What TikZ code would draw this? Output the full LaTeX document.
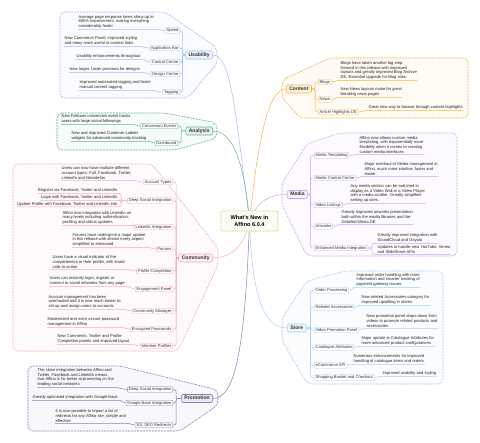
\documentclass[tikz,border=0pt]{standalone}
\usepackage{fontspec}
\setmainfont{Liberation Sans}
\usepackage{tikz}
\definecolor{usabcol}{RGB}{160,190,242}
\definecolor{contcol}{RGB}{248,180,70}
\definecolor{anacol}{RGB}{100,180,140}
\definecolor{mediacol}{RGB}{200,168,242}
\definecolor{commcol}{RGB}{246,166,204}
\definecolor{storecol}{RGB}{166,206,245}
\definecolor{promocol}{RGB}{135,130,182}
\definecolor{centrecol}{RGB}{214,230,160}
\pgfdeclarelayer{boundary layer}
\pgfdeclarelayer{line layer}
\pgfsetlayers{boundary layer,line layer,main}

\begin{document}
\begin{tikzpicture}[x=1bp, y=-1bp,
  centretopic/.style={draw=centrecol, fill=centrecol!10, line width=0.9pt, rounded corners=2pt, minimum width=57bp, minimum height=20bp, align=center, font=\fontsize{5.6}{6.8}\selectfont\bfseries},
  maintopic/.style={draw=#1, fill=#1!18, line width=0.6pt, rounded corners=1.5pt, inner xsep=3pt, inner ysep=1.7pt, text height=3.7pt, text depth=1pt, font=\fontsize{5.1}{6}\selectfont\bfseries, text=black!80},
  subtopic/.style={draw=#1, fill=white, line width=0.4pt, rounded corners=1pt, inner xsep=1.4pt, inner ysep=0.9pt, text height=2.9pt, text depth=0.8pt, font=\fontsize{4.1}{4.8}\selectfont, text=black!80},
  leaftext/.style={inner xsep=0.4pt, inner ysep=0.6pt, align=left, font=\fontsize{4.1}{4.8}\selectfont, text=black!85},
  branchline/.style={draw=#1, line width=0.5pt, rounded corners=2pt},
  boundary/.style={draw=#1, fill=#1!6, line width=0.6pt, dash pattern=on 2pt off 1pt, rounded corners=5pt}]
\useasboundingbox (0,0) rectangle (480,443);

% centre
\node[centretopic] (centre) at (249.5,221) {What's New in\\Affino 6.0.4};

% usability
\node[maintopic=usabcol, anchor=east] (usability) at (213,55) {Usability};
\node[subtopic=usabcol, anchor=east] (speed) at (180,30.5) {Speed};
\node[subtopic=usabcol, anchor=east] (appbar) at (180,48) {Application Bar};
\node[subtopic=usabcol, anchor=east] (ctrlcentre) at (180,62) {Control Centre};
\node[subtopic=usabcol, anchor=east] (designcentre) at (180,74) {Design Centre};
\node[subtopic=usabcol, anchor=east] (tagging) at (180,92) {Tagging};
\node[leaftext, anchor=south west] (speed-txt) at (78,29.3) {Average page response times show up to\\800\% improvement, making everything\\considerably faster};
\node[leaftext, anchor=south west] (appbar-txt) at (64,46.3) {New Commerce Panel, improved styling\\and many more useful in-context links};
\node[leaftext, anchor=south west] (ctrlcentre-txt) at (76,59.3) {Usability enhancements throughout};
\node[leaftext, anchor=south west] (designcentre-txt) at (69,72.3) {New larger, faster previews for designs};
\node[leaftext, anchor=south west] (tagging-txt) at (79,90.3) {Improved automated tagging and faster\\manual content tagging};

% content
\node[maintopic=contcol, anchor=west] (content) at (286,89) {Content};
\node[subtopic=contcol, anchor=west] (blogs) at (318,82) {Blogs};
\node[subtopic=contcol, anchor=west] (news) at (318,99.5) {News};
\node[subtopic=contcol, anchor=west] (articlehl) at (318,112) {Article Highlights DE};
\node[leaftext, anchor=south west] (blogs-txt) at (340,80.3) {Blogs have taken another big step\\forward in this release with improved\\layouts and greatly improved Blog Archive\\DE. Essential upgrade for Blog sites.};
\node[leaftext, anchor=south west] (news-txt) at (340,97.3) {New News layouts make for great\\breaking news pages};
\node[leaftext, anchor=south west] (articlehl-txt) at (368,110.3) {Great new way to browse through content highlights};

% analysis
\node[maintopic=anacol, anchor=east] (analysis) at (213,131) {Analysis};
\node[subtopic=anacol, anchor=east] (convevents) at (178,126) {Conversion Events};
\node[subtopic=anacol, anchor=east] (dashboard) at (178,143) {Dashboard};
\node[leaftext, anchor=south west] (convevents-txt) at (61,124.3) {New Follower conversion event tracks\\users with large social followings};
\node[leaftext, anchor=south west] (dashboard-txt) at (71,141.3) {New and improved Customer Ladder\\widgets for advanced community tracking};

% media
\node[maintopic=mediacol, anchor=west] (media) at (287,194.5) {Media};
\node[subtopic=mediacol, anchor=west] (mtemplating) at (314,155.5) {Media Templating};
\node[subtopic=mediacol, anchor=west] (mcc) at (314,178) {Media Control Centre};
\node[subtopic=mediacol, anchor=west] (videolist) at (314,205) {Video Listings};
\node[subtopic=mediacol, anchor=west] (artworks) at (314,226.5) {Artworks};
\node[subtopic=mediacol, anchor=west] (emi) at (314,248) {Enhanced Media Integration};
\node[leaftext, anchor=south west] (mtemplating-txt) at (359,154.3) {Affino now allows custom media\\templating, with exponentially more\\flexibility when it comes to creating\\custom media interfaces};
\node[leaftext, anchor=south west] (mcc-txt) at (364,176.3) {Major overhaul of Media management in\\Affino, much more intuitive, faster and\\easier};
\node[leaftext, anchor=south west] (videolist-txt) at (350,203.3) {Any media section can be switched to\\display as a Video Wall or a Video Player\\with a media scroller. Greatly simplifies\\setting up sites.};
\node[leaftext, anchor=south west] (artworks-txt) at (341,224.3) {Greatly improved artworks presentation\\both within the media libraries and the\\Detailed Media DE};
\node[leaftext, anchor=south west] (soundcloud) at (377,243.3) {Greatly improved integration with\\SoundCloud and Ooyala};
\node[leaftext, anchor=south west] (youtube) at (377,254.3) {Updates to handle new YouTube, Vimeo\\and SlideShare APIs};

% community
\node[maintopic=commcol, anchor=east] (community) at (213,258) {Community};
\node[subtopic=commcol, anchor=east] (accttypes) at (173,182) {Account Types};
\node[subtopic=commcol, anchor=east] (dsi) at (173,200.5) {Deep Social Integration};
\node[subtopic=commcol, anchor=east] (linkedin) at (173,227) {LinkedIn Integration};
\node[subtopic=commcol, anchor=east] (forums) at (173,249) {Forums};
\node[subtopic=commcol, anchor=east] (profile) at (173,271) {Profile Completion};
\node[subtopic=commcol, anchor=east] (engagement) at (173,289) {Engagement Panel};
\node[subtopic=commcol, anchor=east] (commanager) at (173,311) {Community Manager};
\node[subtopic=commcol, anchor=east] (encrypted) at (173,329) {Encrypted Passwords};
\node[subtopic=commcol, anchor=east] (memberprof) at (173,346) {Member Profiles};
\node[leaftext, anchor=south west] (accttypes-txt) at (61,180.3) {Users can now have multiple different\\account types: Full, Facebook, Twitter,\\LinkedIn and Newsletter};
\node[leaftext, anchor=south east] (dsreg) at (118,193.3) {Register via Facebook, Twitter and LinkedIn};
\node[leaftext, anchor=south east] (dslogin) at (118,200.3) {Login with Facebook, Twitter and LinkedIn};
\node[leaftext, anchor=south east] (dsupdate) at (118,206.8) {Update Profile with Facebook, Twitter and LinkedIn info};
\node[leaftext, anchor=south west] (linkedin-txt) at (62,225.3) {Affino now integrates with LinkedIn on\\many levels including authentication,\\profiling and status updates};
\node[leaftext, anchor=south west] (forums-txt) at (72,247.3) {Forums have undergone a major update\\in this release with almost every aspect\\simplified or enhanced};
\node[leaftext, anchor=south west] (profile-txt) at (52,269.3) {Users have a visual indicator of the\\completeness or their profile, with timed\\calls to action};
\node[leaftext, anchor=south west] (engagement-txt) at (49,286.3) {Users can instantly login, register or\\connect to social networks from any page};
\node[leaftext, anchor=south west] (commanager-txt) at (48,309.3) {Account management has been\\overhauled and it is now much easier to\\set up and assign users to accounts};
\node[leaftext, anchor=south west] (encrypted-txt) at (47,327.3) {Modernized and more secure password\\management in Affino};
\node[leaftext, anchor=south west] (memberprof-txt) at (57,344.3) {New Comments, Twitter and Profile\\Completion panels and improved layout};

% store
\node[maintopic=storecol, anchor=west] (store) at (287,328) {Store};
\node[subtopic=storecol, anchor=west] (orderproc) at (314,290.5) {Order Processing};
\node[subtopic=storecol, anchor=west] (relacc) at (314,307.5) {Related Accessories};
\node[subtopic=storecol, anchor=west] (vidpromo) at (314,330) {Video Promotion Panel};
\node[subtopic=storecol, anchor=west] (catattr) at (314,347.5) {Catalogue Attributes};
\node[subtopic=storecol, anchor=west] (ecomapi) at (314,365.5) {eCommerce API};
\node[subtopic=storecol, anchor=west] (basket) at (314,377.5) {Shopping Basket and Checkout};
\node[leaftext, anchor=south west] (orderproc-txt) at (356,287.3) {Improved order handling with more\\information and smarter tracking of\\payment gateway issues};
\node[leaftext, anchor=south west] (relacc-txt) at (361,305.3) {New related Accessories category for\\improved upselling in stores};
\node[leaftext, anchor=south west] (vidpromo-txt) at (366,328.3) {New promotion panel drops down from\\videos to promote related products and\\accessories};
\node[leaftext, anchor=south west] (catattr-txt) at (361,346.3) {Major update to Catalogue Attributes for\\more advanced product configurations};
\node[leaftext, anchor=south west] (ecomapi-txt) at (353,364.3) {Numerous enhancements for improved\\handling of catalogue items and orders};
\node[leaftext, anchor=south west] (basket-txt) at (382,376.3) {Improved usability and styling};

% promotion
\node[maintopic=promocol, anchor=east] (promotion) at (213,398.5) {Promotion};
\node[subtopic=promocol, anchor=east] (pdsi) at (173,389.5) {Deep Social Integration};
\node[subtopic=promocol, anchor=east] (gbase) at (173,403) {Google Base Integration};
\node[subtopic=promocol, anchor=east] (seo) at (173,425) {301 SEO Redirects};
\node[leaftext, anchor=south west] (pdsi-txt) at (37,387.3) {The close integration between Affino and\\Twitter, Facebook and LinkedIn means\\that Affino is far better at promoting on the\\leading social networks};
\node[leaftext, anchor=south west] (gbase-txt) at (32,400.3) {Greatly optimised integration with Google Base};
\node[leaftext, anchor=south west] (seo-txt) at (55,423.3) {It is now possible to import a list of\\redirects for any Affino site, simple and\\effective};

% connectors
\begin{pgfonlayer}{line layer}
\draw[branchline=usabcol] (centre.center) .. controls (236,120) and (232,55) .. (usability.east);
\draw[branchline=contcol] (centre.center) .. controls (258,140) and (268,89) .. (content.west);
\draw[branchline=anacol] (centre.center) .. controls (245,170) and (235,131) .. (analysis.east);
\draw[branchline=mediacol] (centre.center) .. controls (258,200) and (270,194.5) .. (media.west);
\draw[branchline=commcol] (centre.center) .. controls (246,240) and (235,258) .. (community.east);
\draw[branchline=storecol] (centre.center) .. controls (252,300) and (265,328) .. (store.west);
\draw[branchline=promocol] (centre.center) .. controls (245,350) and (235,398.5) .. (promotion.east);

\foreach \c in {speed,appbar,ctrlcentre,designcentre,tagging}{
  \draw[branchline=usabcol] (usability.west) -- (182.5,55) |- (\c.east);
  \draw[branchline=usabcol] (\c-txt.south west) -- (\c-txt.south east) to[out=0,in=180] (\c.west);
}
\foreach \c in {blogs,news,articlehl}{
  \draw[branchline=contcol] (content.east) -- (315,89) |- (\c.west);
  \draw[branchline=contcol] (\c.east) to[out=0,in=180] (\c-txt.south west) -- (\c-txt.south east);
}
\foreach \c in {convevents,dashboard}{
  \draw[branchline=anacol] (analysis.west) -- (181,131) |- (\c.east);
  \draw[branchline=anacol] (\c-txt.south west) -- (\c-txt.south east) to[out=0,in=180] (\c.west);
}
\foreach \c in {mtemplating,mcc,videolist,artworks,emi}{
  \draw[branchline=mediacol] (media.east) -- (310.5,194.5) |- (\c.west);
}
\foreach \c in {mtemplating,mcc,videolist,artworks}{
  \draw[branchline=mediacol] (\c.east) to[out=0,in=180] (\c-txt.south west) -- (\c-txt.south east);
}
\foreach \c in {soundcloud,youtube}{
  \draw[branchline=mediacol] (emi.east) -- (372,248) |- (\c.south west) -- (\c.south east);
}
\foreach \c in {accttypes,dsi,linkedin,forums,profile,engagement,commanager,encrypted,memberprof}{
  \draw[branchline=commcol] (community.west) -- (176,258) |- (\c.east);
}
\foreach \c in {accttypes,linkedin,forums,profile,engagement,commanager,encrypted,memberprof}{
  \draw[branchline=commcol] (\c-txt.south west) -- (\c-txt.south east) to[out=0,in=180] (\c.west);
}
\foreach \c in {dsreg,dslogin,dsupdate}{
  \draw[branchline=commcol] (dsi.west) -- (121,200.5) |- (\c.south east) -- (\c.south west);
}
\foreach \c in {orderproc,relacc,vidpromo,catattr,ecomapi,basket}{
  \draw[branchline=storecol] (store.east) -- (310.5,328) |- (\c.west);
  \draw[branchline=storecol] (\c.east) to[out=0,in=180] (\c-txt.south west) -- (\c-txt.south east);
}
\foreach \c in {pdsi,gbase,seo}{
  \draw[branchline=promocol] (promotion.west) -- (176,398.5) |- (\c.east);
  \draw[branchline=promocol] (\c-txt.south west) -- (\c-txt.south east) to[out=0,in=180] (\c.west);
}
\end{pgfonlayer}

% boundaries
\begin{pgfonlayer}{boundary layer}
\fill[white] (0,0) rectangle (480,443);
\draw[boundary=usabcol] (60,12) -- (165,12) -- (216,47) -- (218,62) -- (188,98) -- (60,98) -- cycle;
\draw[boundary=contcol] (282,80) -- (330,58) -- (468,58) -- (468,118) -- (300,118) -- (282,98) -- cycle;
\draw[boundary=anacol] (57,113) -- (165,113) -- (217,123) -- (217,138) -- (175,150) -- (57,150) -- cycle;
\draw[boundary=mediacol] (282,183) -- (307,144) -- (340,133) -- (457,133) -- (457,256) -- (307,256) -- (282,205) -- cycle;
\draw[boundary=commcol] (13,164) -- (152,164) -- (218,248) -- (218,265) -- (178,351) -- (13,351) -- cycle;
\draw[boundary=storecol] (282,318) -- (307,281) -- (345,271) -- (443,271) -- (443,384) -- (307,384) -- (282,340) -- cycle;
\draw[boundary=promocol] (28,366) -- (120,366) -- (218,390) -- (218,405) -- (180,431) -- (28,431) -- cycle;
\end{pgfonlayer}
\end{tikzpicture}
\end{document}
